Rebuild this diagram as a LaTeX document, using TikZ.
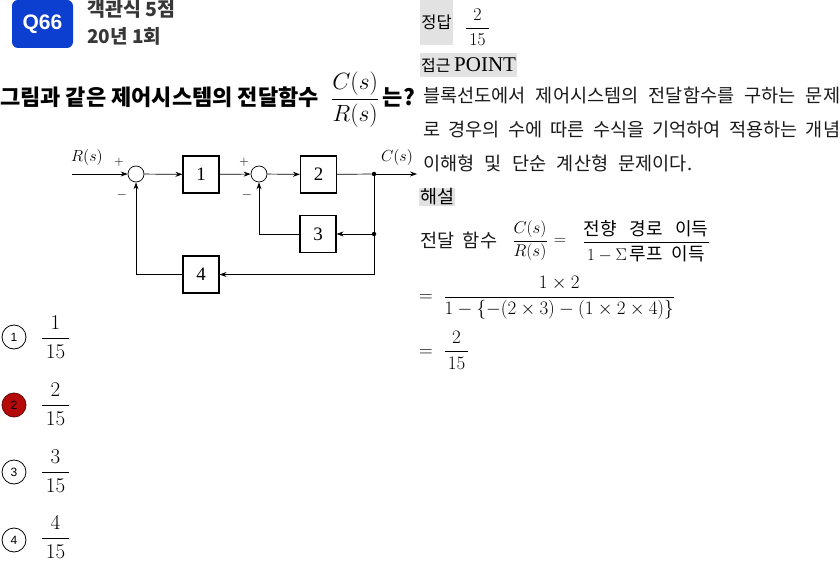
\RequirePackage{fix-cm}
\documentclass[tikz,border=0pt]{standalone}
\usepackage{amsmath}
\usepackage{fontspec}
\setmainfont{Liberation Serif}
\newfontfamily\kr{Noto Sans CJK KR}
\newfontfamily\hd{Liberation Sans}
\usetikzlibrary{arrows.meta}
\definecolor{badgeblue}{RGB}{12,62,208}
\definecolor{headgray}{RGB}{55,55,55}
\definecolor{hlgray}{RGB}{226,226,226}
\definecolor{pickred}{RGB}{180,10,10}

\begin{document}
\begin{tikzpicture}[x=1pt, y=-1pt,
  sumpt/.style={shape=circle, draw=black, line width=0.7pt, minimum size=16pt, inner sep=0pt},
  blk/.style={draw=black, line width=1.1pt, minimum width=36pt, minimum height=37pt, inner sep=0pt, font=\fontsize{19}{19}\selectfont},
  junc/.style={shape=circle, fill=black, inner sep=0pt, minimum size=4.5pt},
  sig/.style={line width=0.7pt, -{Stealth[length=7pt, width=5pt]}},
  sgn/.style={inner sep=0pt, font=\fontsize{13}{13}\selectfont},
  hl/.style={fill=hlgray, inner sep=1pt, font=\kr\fontsize{17}{17}\selectfont},
  body/.style={anchor=west, inner sep=0pt, text=black!90, font=\kr\fontsize{18.6}{18.6}\selectfont},
  mth/.style={inner sep=0pt, font=\fontsize{19}{19}\selectfont},
  choice/.style={shape=circle, draw=black, line width=0.8pt, minimum size=24pt, inner sep=0pt, font=\hd\fontsize{12}{12}\selectfont},
  opt/.style={anchor=west, inner sep=0pt, font=\fontsize{21}{21}\selectfont}]
\useasboundingbox (0,0) rectangle (840,561);

% header
\node[rounded corners=6pt, fill=badgeblue, minimum width=61pt, minimum height=48pt, text=white, font=\hd\bfseries\fontsize{21}{21}\selectfont] (badge) at (42.5,24) {Q66};
\node[anchor=west, inner sep=0pt, text=headgray, font=\kr\bfseries\fontsize{19.5}{19.5}\selectfont] (kind) at (87,9) {객관식 5점};
\node[anchor=west, inner sep=0pt, text=headgray, font=\kr\bfseries\fontsize{19}{19}\selectfont] (year) at (87,36) {20년 1회};
\node[anchor=west, inner sep=0pt, font=\fontsize{22}{24}\selectfont] (title) at (0,100) {{\kr\bfseries 그림과 같은 제어시스템의 전달함수}\;\;{\fontsize{23.5}{24}\selectfont$\dfrac{C(s)}{R(s)}$}\,{\kr\bfseries 는?}};

% block diagram
\coordinate (in) at (72,174);
\node[sumpt] (S1) at (136,174) {};
\node[blk] (B1) at (201,174.5) {1};
\node[sumpt] (S2) at (259,174) {};
\node[blk] (B2) at (318.5,174.5) {2};
\node[junc] (J1) at (374,174) {};
\coordinate (out) at (417,174);
\node[blk] (B3) at (318,234) {3};
\node[junc] (J2) at (374,234) {};
\node[blk] (B4) at (201,274.5) {4};
\node[inner sep=0pt, font=\fontsize{16}{16}\selectfont] (R) at (87,158) {$R(s)$};
\node[inner sep=0pt, font=\fontsize{16}{16}\selectfont] (C) at (397,158) {$C(s)$};
\node[sgn] (p1) at (119,162) {$+$};
\node[sgn] (m1) at (122,195) {$-$};
\node[sgn] (p2) at (244,162) {$+$};
\node[sgn] (m2) at (247,195) {$-$};
\draw[sig] (in) -- (S1);
\draw[sig] (S1) -- (B1);
\draw[sig] (B1) -- (S2);
\draw[sig] (S2) -- (B2);
\draw[line width=0.7pt] (B2) -- (J1);
\draw[sig] (J1) -- (out);
\draw[line width=0.7pt] (J1) -- (J2);
\draw[sig] (J2) -- (B3);
\draw[sig] (J2) |- (B4);
\draw[sig] (B3) -| (S2);
\draw[sig] (B4) -| (S1);

% answer column
\node[hl, minimum width=33pt, minimum height=45pt, font=\kr\fontsize{16.5}{16.5}\selectfont] (ans) at (436.5,22.5) {정답};
\node[inner sep=0pt, font=\fontsize{18}{18}\selectfont] (ansval) at (477.5,27) {$\dfrac{2}{\,15\,}$};
\node[hl, anchor=west, minimum height=24pt, font=\kr\fontsize{16}{16}\selectfont] (point) at (420,65) {접근 {\rmfamily\fontsize{21}{21}\selectfont POINT}};
\node[body] (line1) at (423,95) {\makebox[417pt][s]{블록선도에서 제어시스템의 전달함수를 구하는 문제}};
\node[body] (line2) at (423,130) {\makebox[417pt][s]{로 경우의 수에 따른 수식을 기억하여 적용하는 개념}};
\node[body] (line3) at (423,163) {\makebox[269pt][s]{이해형 및 단순 계산형 문제이다.}};
\node[hl, anchor=west, font=\kr\fontsize{18.5}{18.5}\selectfont] (sol) at (419,197) {해설};
\node[body] (lbl) at (420,240) {\makebox[77pt][s]{전달 함수}};
\node[mth, font=\fontsize{17}{17}\selectfont] (frac1) at (530,241) {$\dfrac{C(s)}{R(s)}$};
\node[mth, font=\fontsize{17}{17}\selectfont] (eqs) at (560,241) {$=$};
\node[mth, font=\fontsize{17}{17}\selectfont] (frac2) at (646,241) {$\dfrac{\makebox[125pt][s]{\kr\fontsize{18}{18}\selectfont 전향 경로 이득}}{1-\Sigma\,\makebox[75pt][s]{\kr\fontsize{18}{18}\selectfont 루프 이득}}$};
\node[mth, anchor=west] (eq2) at (419,298) {$=\;\dfrac{1\times 2}{1-\{-(2\times 3)-(1\times 2\times 4)\}}$};
\node[mth, anchor=west] (eq3) at (419,350) {$=\;\dfrac{2}{\,15\,}$};

% choices
\node[choice] (c1) at (14,337) {1};
\node[choice, fill=pickred, draw=pickred!55!black] (c2) at (14,405) {2};
\node[choice] (c3) at (14,472) {3};
\node[choice] (c4) at (14,540) {4};
\node[opt] (o1) at (41,337) {$\dfrac{1}{\,15\,}$};
\node[opt] (o2) at (41,404) {$\dfrac{2}{\,15\,}$};
\node[opt] (o3) at (41,471) {$\dfrac{3}{\,15\,}$};
\node[opt] (o4) at (41,537) {$\dfrac{4}{\,15\,}$};
\end{tikzpicture}
\end{document}
